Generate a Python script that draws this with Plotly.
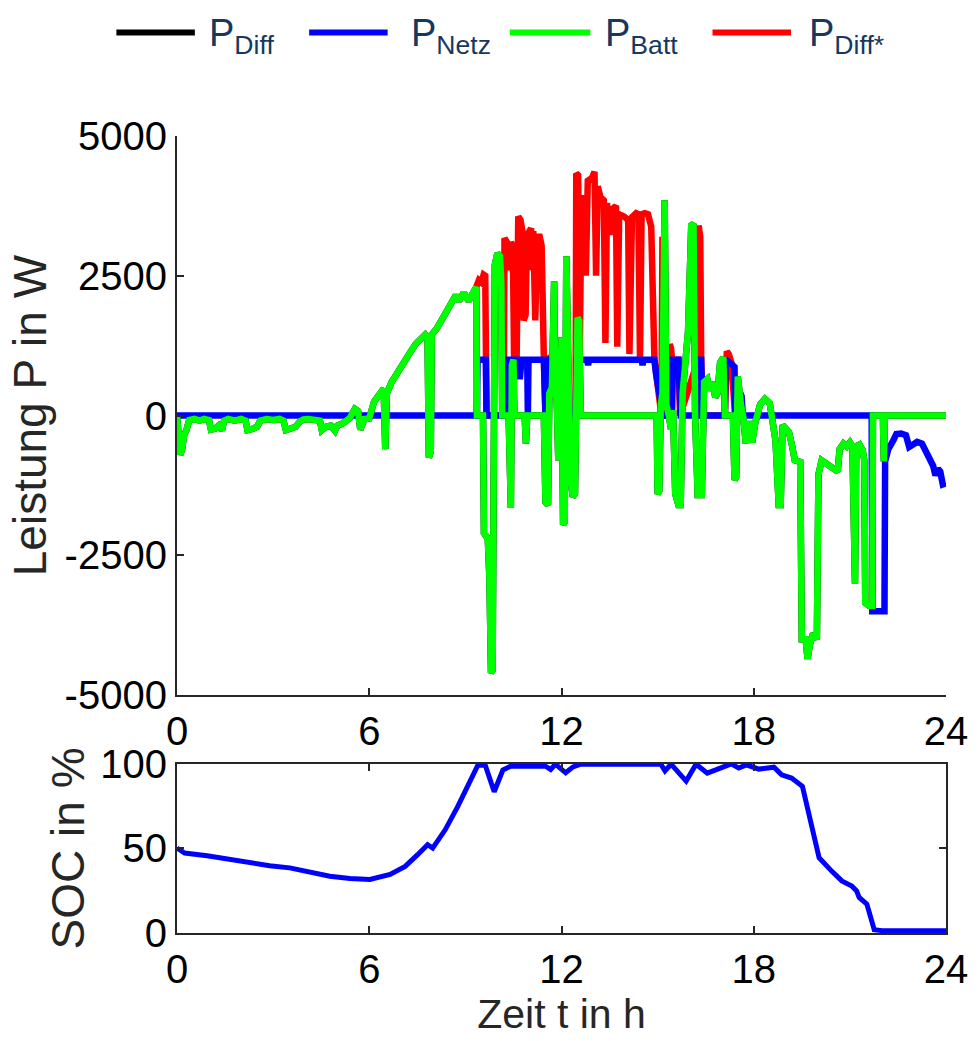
import plotly.graph_objects as go

# ---------------- data ----------------
# P_Batt (green)
t_batt = [0.00, 0.03, 0.10, 0.16, 0.22, 0.30, 0.38, 0.55, 0.70, 0.85, 1.00, 1.06, 1.20, 1.30, 1.40,
          1.47, 1.60, 1.80, 2.00, 2.14, 2.20, 2.35, 2.50, 2.60, 2.80, 3.00, 3.20, 3.32, 3.40, 3.55,
          3.70, 3.85, 3.95, 4.10, 4.30, 4.46, 4.52, 4.65, 4.80, 4.93, 5.00, 5.20, 5.40, 5.55, 5.65,
          5.72, 5.85, 6.00, 6.15, 6.30, 6.45, 6.50, 6.55, 6.70, 6.85, 7.00, 7.15, 7.30, 7.45, 7.60,
          7.75, 7.82, 7.86, 7.92, 7.95, 8.10, 8.25, 8.40, 8.55, 8.70, 8.80, 8.95, 9.10, 9.25, 9.34,
          9.36, 9.55, 9.58, 9.70, 9.75, 9.80, 9.85, 9.88, 9.92, 10.00, 10.08, 10.12, 10.15, 10.35, 10.42,
          10.45, 10.50, 10.53, 10.85, 10.89, 10.93, 11.45, 11.50, 11.58, 11.62, 11.70, 11.77, 11.80, 11.85,
          11.90, 11.95, 12.00, 12.05, 12.10, 12.15, 12.20, 12.28, 12.35, 12.42, 12.50, 12.55, 12.60, 14.97,
          15.00, 15.05, 15.10, 15.15, 15.22, 15.27, 15.35, 15.42, 15.48, 15.55, 15.65, 15.72, 15.78, 15.85,
          15.95, 16.05, 16.12, 16.17, 16.25, 16.38, 16.45, 16.55, 16.62, 16.70, 16.80, 16.87, 16.95, 17.05,
          17.10, 17.35, 17.40, 17.45, 17.50, 17.60, 17.68, 17.75, 17.85, 17.95, 18.05, 18.20, 18.35, 18.50,
          18.60, 18.68, 18.78, 18.84, 18.90, 19.00, 19.10, 19.20, 19.28, 19.45, 19.50, 19.62, 19.68, 19.75,
          19.85, 19.97, 20.02, 20.12, 20.30, 20.50, 20.62, 20.68, 20.80, 20.90, 21.00, 21.08, 21.12, 21.16,
          21.20, 21.30, 21.40, 21.45, 21.48, 21.60, 21.70, 21.72, 22.03, 22.06, 22.09, 24.00]
p_batt = [0, -350, -700, -600, -350, -250, -80, -60, -90, -60, -80, -250, -230, -180, -260,
          -90, -60, -90, -60, -90, -260, -240, -200, -90, -60, -80, -60, -90, -260, -230,
          -200, -100, -70, -60, -80, -90, -260, -200, -180, -270, -180, -130, -40, 120, 80,
          -250, -60, -50, 250, 380, 480, -600, 400, 600, 750, 850, 1000, 1150, 1280, 1350,
          1450, 1400, -750, -650, 1450, 1550, 1700, 1800, 1950, 2150, 2050, 2200, 2050, 2250, 2300,
          0, 0, -2100, -2200, -2900, -4600, -4550, -2000, 2700, 2900, 2850, 2400, 0, 0, -1650,
          900, 1000, 0, 0, -500, 0, 0, -1550, -1600, 400, 500, 2400, 400, 300,
          -800, -200, 1400, -1950, -1900, 2850, 500, -1100, -1450, -1400, 1750, 1700, 0, 0,
          -1400, -1350, 200, 400, 3850, 200, 0, -250, 100, -1400, -1600, -1600, 400, 800,
          1500, 3400, 3430, 0, -1420, -1420, 600, 650, 450, 600, 330, 400, 950, 1040,
          0, 0, -1150, -1100, 700, 200, -50, -500, -100, -480, -120, 200, 300, 220,
          -150, -450, -1600, -1600, -170, -240, -300, -550, -800, -830, -4000, -4000, -4350, -4100,
          -3900, -4000, -1050, -800, -870, -950, -1000, -600, -500, -550, -480, -560, -3000, -3000,
          -550, -520, -620, -800, -3350, -3400, -3400, 0, 0, -820, 0, 0]

# P_Netz (blue)
t_netz = [0.00, 9.36, 9.38, 9.64, 9.66, 10.30, 10.33, 10.65, 10.70, 10.75, 10.93, 10.95, 10.97, 11.45,
          11.48, 11.50, 11.55, 11.92, 11.94, 12.44, 12.47, 12.80, 12.83, 12.86, 14.50, 14.53, 14.56, 14.90,
          14.95, 15.03, 15.08, 15.12, 15.45, 15.48, 15.65, 15.72, 16.28, 16.30, 16.36, 16.38, 16.42, 17.10,
          17.12, 17.25, 17.35, 17.40, 17.42, 17.55, 17.58, 17.62, 17.66, 21.68, 21.70, 22.08, 22.10, 22.20,
          22.35, 22.45, 22.60, 22.75, 22.85, 22.95, 23.10, 23.25, 23.35, 23.50, 23.60, 23.67, 23.75, 23.82,
          23.90, 24.00]
p_netz = [0, 0, 1000, 1000, 0, 0, 1000, 1000, 650, 1000, 1000, 0, 1000, 1000,
          300, 0, 1000, 1000, 0, 0, 1000, 1000, 900, 1000, 1000, 900, 1000, 1000,
          750, 500, 300, 0, 0, 1000, 1000, 0, 0, 1000, 1000, 600, 0, 0,
          1000, 950, 870, 870, 0, 0, 400, 350, 0, 0, -3500, -3500, -820, -600,
          -450, -330, -320, -350, -560, -530, -470, -500, -600, -780, -900, -1070, -950, -1000,
          -1230, -1210]

# P_Diff* (red)
t_diffs = [9.34, 9.42, 9.50, 9.57, 9.62, 9.64, 9.66, 10.20, 10.22, 10.30, 10.36, 10.42, 10.48, 10.52,
           10.60, 10.65, 10.72, 10.78, 10.82, 10.88, 10.92, 11.00, 11.05, 11.10, 11.12, 11.18, 11.25, 11.32,
           11.38, 11.45, 11.48, 11.50, 11.55, 11.90, 11.94, 12.44, 12.46, 12.52, 12.57, 12.62, 12.72, 12.76,
           12.82, 12.95, 13.03, 13.08, 13.13, 13.22, 13.32, 13.37, 13.42, 13.50, 13.60, 13.70, 13.74, 13.80,
           13.95, 14.08, 14.12, 14.20, 14.33, 14.40, 14.45, 14.50, 14.60, 14.70, 14.80, 14.90, 15.12, 15.13,
           15.15, 15.18, 15.20, 15.36, 15.38, 15.42, 15.45, 15.65, 15.70, 16.26, 16.28, 16.33, 16.36, 16.40,
           17.10, 17.13, 17.16, 17.22, 17.30, 17.42]
p_diffs = [2300, 2420, 2380, 2520, 2500, 1000, 0, 0, 3170, 3100, 2600, 3100, 3040, 1000,
           1000, 3560, 3500, 3300, 1700, 1800, 3200, 3300, 3350, 2600, 3300, 1700, 3200, 3200,
           3040, 1000, 300, 0, 1000, 1150, 0, 0, 4330, 4300, 1000, 3900, 3880, 2500,
           4200, 4250, 4360, 2500, 4100, 3900, 3850, 1300, 3800, 3230, 3700, 3750, 1230, 3600,
           3560, 3500, 1100, 3550, 3620, 3600, 1000, 3600, 3620, 3600, 3380, 1000, 0, 0,
           3200, 3100, 0, 0, 1280, 1200, 1000, 1000, 0, 1000, 3400, 3200, 1000, 0,
           0, 1000, 1150, 1100, 950, 0]

# P_Diff (black) - lies completely underneath the other curves
t_diff = t_batt
p_diff = p_batt

# SOC (blue, lower panel)
t_soc = [0.00, 0.24, 0.94, 1.64, 2.27, 2.89, 3.52, 4.14, 4.77, 5.40, 6.02, 6.65, 7.12, 7.51, 7.82,
         7.98, 8.37, 8.76, 9.07, 9.39, 9.62, 9.90, 10.17, 10.41, 10.72, 11.50, 11.66, 11.81, 12.13,
         12.36, 12.60, 15.10, 15.23, 15.42, 15.89, 16.20, 16.55, 16.98, 17.30, 17.53, 17.77, 18.16,
         18.63, 18.87, 19.18, 19.52, 20.04, 20.43, 20.75, 21.06, 21.21, 21.29, 21.53, 21.76, 22.00, 24.00]
soc = [50.2, 47.3, 45.7, 43.4, 41.8, 39.8, 38.5, 36.2, 33.6, 32.2, 31.6, 34.6, 39.4, 46.3, 52.2,
       50.2, 61.0, 74.7, 86.5, 99.2, 99.2, 83.5, 96.3, 98.6, 98.6, 98.6, 96.7, 99.8, 94.7,
       98.2, 99.8, 99.8, 95.9, 99.8, 89.8, 99.8, 94.5, 97.5, 100.0, 97.5, 99.4, 96.9,
       98.0, 93.5, 91.6, 86.7, 44.5, 36.6, 30.8, 27.8, 24.9, 21.0, 17.1, 2.0, 1.4, 1.4]

x_ticks = [0, 6, 12, 18, 24]
p_ticks = [-5000, -2500, 0, 2500, 5000]
p_tick_text = ["-5000", "-2500", "0", "2500", "5000"]
soc_ticks = [0, 50, 100]

legend_items = [("P<sub>Diff</sub>", "#000000"), ("P<sub>Netz</sub>", "#0000ff"),
                ("P<sub>Batt</sub>", "#00ff00"), ("P<sub>Diff*</sub>", "#ff0000")]

# ---------------- figure ----------------
W, H = 980, 1041
ML, MR, MT, MB = 177, 29, 136, 104
FONT = "Arial, Liberation Sans, sans-serif"
AX = "#262626"

fig = go.Figure()
LW = 6.5
fig.add_trace(go.Scatter(x=t_diff, y=p_diff, mode="lines", line=dict(color="#000000", width=LW),
                         xaxis="x", yaxis="y", showlegend=False))
fig.add_trace(go.Scatter(x=t_diffs, y=p_diffs, mode="lines", line=dict(color="#ff0000", width=LW),
                         xaxis="x", yaxis="y", showlegend=False))
fig.add_trace(go.Scatter(x=t_netz, y=p_netz, mode="lines", line=dict(color="#0000ff", width=LW),
                         xaxis="x", yaxis="y", showlegend=False))
fig.add_trace(go.Scatter(x=t_batt, y=p_batt, mode="lines", line=dict(color="#00ff00", width=LW),
                         xaxis="x", yaxis="y", showlegend=False))
fig.add_trace(go.Scatter(x=t_soc, y=soc, mode="lines", line=dict(color="#0000ff", width=5),
                         xaxis="x2", yaxis="y2", showlegend=False))

ph = H - MT - MB
pw = W - ML - MR
def py(p):  # pixel y -> paper y
    return (H - MB - p) / ph
def px(p):  # pixel x -> paper x
    return (p - ML) / pw

axis_common = dict(showline=True, linecolor=AX, linewidth=2.2, ticks="inside", ticklen=7,
                   tickwidth=2, tickcolor=AX, showgrid=False, zeroline=False,
                   tickfont=dict(family=FONT, size=40, color="#000000"))

fig.update_layout(
    width=W, height=H, plot_bgcolor="white", paper_bgcolor="white",
    margin=dict(l=ML, r=MR, t=MT, b=MB),
    showlegend=False,
    xaxis=dict(domain=[0, 1], range=[0, 24], tickvals=x_ticks, anchor="y", mirror=False, **axis_common),
    yaxis=dict(domain=[py(698), 1], range=[-5000, 5000], tickvals=p_ticks, ticktext=p_tick_text,
               anchor="x", mirror=False,
               title=dict(text="Leistung P in W", font=dict(family=FONT, size=46, color=AX), standoff=3),
               **axis_common),
    xaxis2=dict(domain=[0, 1], range=[0, 24], tickvals=x_ticks, anchor="y2", mirror="ticks",
                title=dict(text="Zeit t in h", font=dict(family=FONT, size=41, color=AX), standoff=9),
                **axis_common),
    yaxis2=dict(domain=[0, py(767)], range=[0, 100], tickvals=soc_ticks, anchor="x2", mirror="ticks",
                title=dict(text="SOC in %", font=dict(family=FONT, size=46, color=AX), standoff=1),
                **axis_common),
)

# custom legend (line samples + labels) above the top panel
leg_lines = [(116, 195), (310, 389), (512, 593), (716, 795)]
leg_text_x = [207, 411, 606, 811]
for (label, col), (x0, x1), tx in zip(legend_items, leg_lines, leg_text_x):
    fig.add_shape(type="line", xref="paper", yref="paper", x0=px(x0), x1=px(x1), y0=py(32), y1=py(32),
                  line=dict(color=col, width=6))
    fig.add_annotation(xref="paper", yref="paper", x=px(tx), y=py(35), xanchor="left", yanchor="middle",
                       text=label, showarrow=False, font=dict(family=FONT, size=38, color="#16385e"))

fig.write_html("out.html", config={"displayModeBar": False},
               post_script="document.body.style.margin='0';")
